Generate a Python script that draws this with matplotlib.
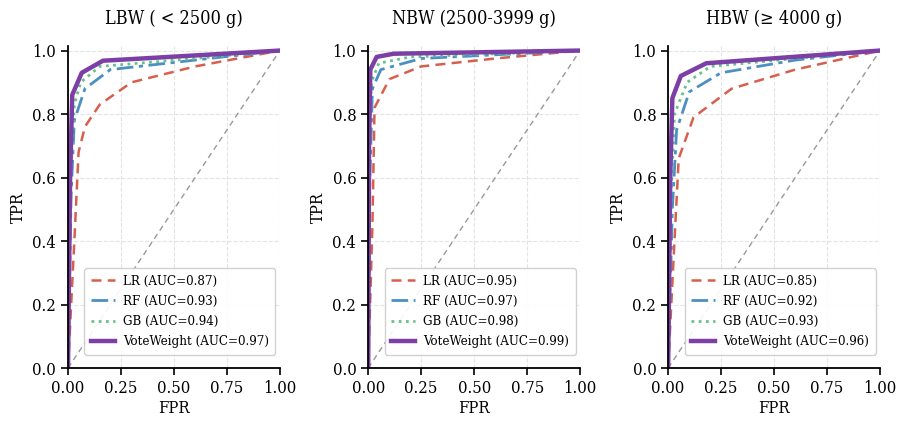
import matplotlib.pyplot as plt

plt.rcParams["font.family"] = ["DejaVu Serif"]
plt.rcParams["font.stretch"] = "condensed"

titles = ["LBW ( < 2500 g)", "NBW (2500-3999 g)", "HBW (\u2265 4000 g)"]
models = ["LR", "RF", "GB", "VoteWeight"]

# ROC points (FPR, TPR), per group and model
lbw_fpr = {
    "LR": [0.0, 0.03, 0.05, 0.08, 0.15, 0.30, 0.60, 1.0],
    "RF": [0.0, 0.015, 0.03, 0.08, 0.20, 0.60, 1.0],
    "GB": [0.0, 0.012, 0.03, 0.06, 0.15, 0.60, 1.0],
    "VoteWeight": [0.0, 0.01, 0.02, 0.065, 0.165, 1.0],
}
lbw_tpr = {
    "LR": [0.0, 0.40, 0.68, 0.76, 0.83, 0.90, 0.95, 1.0],
    "RF": [0.0, 0.55, 0.78, 0.88, 0.94, 0.97, 1.0],
    "GB": [0.0, 0.60, 0.83, 0.90, 0.95, 0.975, 1.0],
    "VoteWeight": [0.0, 0.60, 0.86, 0.93, 0.968, 1.0],
}
lbw_auc = [0.87, 0.93, 0.94, 0.97]

nbw_fpr = {
    "LR": [0.0, 0.02, 0.03, 0.10, 0.25, 0.60, 1.0],
    "RF": [0.0, 0.008, 0.02, 0.06, 0.25, 1.0],
    "GB": [0.0, 0.006, 0.015, 0.05, 0.20, 1.0],
    "VoteWeight": [0.0, 0.004, 0.01, 0.04, 0.12, 1.0],
}
nbw_tpr = {
    "LR": [0.0, 0.45, 0.82, 0.91, 0.95, 0.975, 1.0],
    "RF": [0.0, 0.60, 0.88, 0.94, 0.975, 1.0],
    "GB": [0.0, 0.65, 0.90, 0.96, 0.98, 1.0],
    "VoteWeight": [0.0, 0.70, 0.94, 0.98, 0.99, 1.0],
}
nbw_auc = [0.95, 0.97, 0.98, 0.99]

hbw_fpr = {
    "LR": [0.0, 0.03, 0.05, 0.12, 0.30, 0.60, 1.0],
    "RF": [0.0, 0.02, 0.04, 0.10, 0.25, 0.60, 1.0],
    "GB": [0.0, 0.015, 0.03, 0.09, 0.20, 0.60, 1.0],
    "VoteWeight": [0.0, 0.01, 0.02, 0.06, 0.18, 1.0],
}
hbw_tpr = {
    "LR": [0.0, 0.40, 0.66, 0.79, 0.88, 0.94, 1.0],
    "RF": [0.0, 0.50, 0.75, 0.87, 0.93, 0.97, 1.0],
    "GB": [0.0, 0.55, 0.80, 0.90, 0.95, 0.975, 1.0],
    "VoteWeight": [0.0, 0.60, 0.85, 0.92, 0.96, 1.0],
}
hbw_auc = [0.85, 0.92, 0.93, 0.96]

groups = [
    (lbw_fpr, lbw_tpr, lbw_auc),
    (nbw_fpr, nbw_tpr, nbw_auc),
    (hbw_fpr, hbw_tpr, hbw_auc),
]

styles = {
    "LR": dict(color="#d6604d", ls=(0, (4, 2.5)), lw=1.8),
    "RF": dict(color="#4a90c2", ls=(0, (6, 2, 1.5, 2)), lw=2.0),
    "GB": dict(color="#66c28a", ls=(0, (1, 1.6)), lw=2.0),
    "VoteWeight": dict(color="#7b3fa6", ls="-", lw=3.2),
}

fig = plt.figure(figsize=(8.98, 4.28), dpi=100)
lefts = [0.0757, 0.410, 0.744]
for left, title, (fpr, tpr, auc) in zip(lefts, titles, groups):
    ax = fig.add_axes([left, 0.14, 0.236, 0.753])
    ax.plot([0, 1], [0, 1], ls=(0, (4, 3)), color="#999999", lw=1.0)
    for m, a in zip(models, auc):
        ax.plot(fpr[m], tpr[m], label=f"{m} (AUC={a:.2f})", **styles[m])
    ax.set_xlim(0, 1)
    ax.set_ylim(0, 1.015)
    ax.set_xticks([0, 0.25, 0.5, 0.75, 1.0])
    ax.set_yticks([0, 0.2, 0.4, 0.6, 0.8, 1.0])
    ax.set_xticklabels(["0.00", "0.25", "0.50", "0.75", "1.00"])
    ax.set_yticklabels(["0.0", "0.2", "0.4", "0.6", "0.8", "1.0"])
    ax.tick_params(labelsize=12, length=5, width=1.2)
    ax.grid(True, ls="--", color="#dddddd", lw=0.8, alpha=0.8)
    for s in ["top", "right"]:
        ax.spines[s].set_visible(False)
    for s in ["left", "bottom"]:
        ax.spines[s].set_linewidth(1.3)
    ax.set_xlabel("FPR", fontsize=12, labelpad=2)
    ax.set_ylabel("TPR", fontsize=12)
    ax.set_title(title, fontsize=13, pad=16)
    ax.legend(loc="lower right", fontsize=9.5, frameon=True, framealpha=0.9,
              edgecolor="#cccccc", handlelength=1.8, handletextpad=0.6,
              labelspacing=0.55, borderpad=0.5,
              bbox_to_anchor=(1.01, 0.02))

fig.savefig("out.png", dpi=100)
